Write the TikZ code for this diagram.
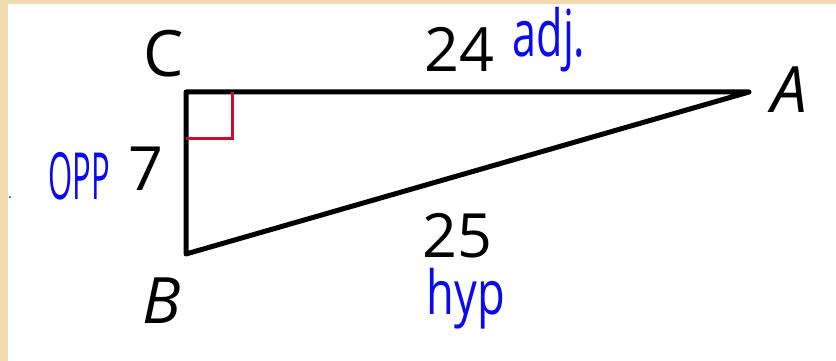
\documentclass[tikz,border=0pt]{standalone}
\usepackage{fontspec}
\setmainfont{Open Sans}
\newfontfamily\handfont{Open Sans}
\definecolor{paper}{HTML}{F1DBAE}
\definecolor{sideedge}{HTML}{000000}
\definecolor{rightmark}{HTML}{C8102E}
\definecolor{inkblue}{HTML}{0A0AF0}

\begin{document}
\begin{tikzpicture}[
  x=1pt, y=-1pt,
  side/.style={draw=sideedge, line width=5pt, line join=round},
  rmark/.style={draw=rightmark, line width=3pt},
  vtx/.style={anchor=base, inner sep=0pt, font=\fontsize{64}{64}\selectfont\itshape},
  len/.style={anchor=base, inner sep=0pt, font=\fontsize{61}{61}\selectfont},
  hand/.style={anchor=base, inner sep=0pt, text=inkblue, font=\handfont},
]
\useasboundingbox (0,0) rectangle (836,361);
% ---- paper: white sheet on a beige ground ----
\fill[paper] (0,0) rectangle (836,361);
\fill[white] (8,4) rectangle (836,361);
% ---- triangle vertices ----
\coordinate (C) at (186,92);
\coordinate (A) at (749,92);
\coordinate (B) at (186,254);
\draw[side] (B) -- (C) -- (A) -- cycle;
% right angle at C
\draw[rmark] (C) ++(0,46) -| ++(46,-46);
% ---- vertex labels ----
\node[vtx, font=\fontsize{64}{64}\selectfont] (labC) at (164,77) {C};
\node[vtx] (labA) at (789,113) {A};
\node[vtx] (labB) at (162,323) {B};
% ---- side lengths ----
\node[len] (l24) at (459,72) {24};
\node[len] (l7) at (146,190) {7};
\node[len] (l25) at (457,257) {25};
% ---- handwritten notes ----
\node[hand, font=\handfont\fontsize{54}{54}\selectfont] (adj) at (549,57) {\scalebox{0.8}[1.2]{adj.}};
\node[hand, font=\handfont\fontsize{50}{50}\selectfont] (opp) at (79,199) {\scalebox{0.62}[1.3]{OPP}};
\node[hand, font=\handfont\fontsize{58}{58}\selectfont] (hyp) at (466,314) {\scalebox{0.78}[1.05]{hyp}};
\fill[inkblue] (10,197) circle (1pt);
\end{tikzpicture}
\end{document}
